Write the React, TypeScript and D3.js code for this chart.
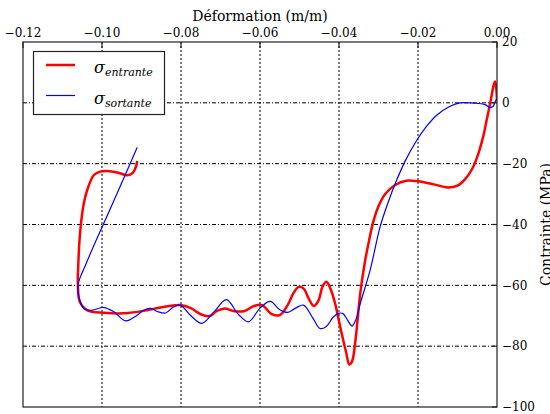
import React from "react";
import * as d3 from "d3";

const xTicks = [-0.12, -0.1, -0.08, -0.06, -0.04, -0.02, 0.0];
const yTicks = [20, 0, -20, -40, -60, -80, -100];

const entranteX = [0.0, -0.0002, -0.0005, -0.0009, -0.0017, -0.0026, -0.0035, -0.0048, -0.0062, -0.008, -0.01, -0.0125, -0.016, -0.02, -0.023, -0.0258, -0.0283, -0.03, -0.0313, -0.0325, -0.0334, -0.0346, -0.0359, -0.0367, -0.0374, -0.0382, -0.0397, -0.041, -0.0422, -0.0432, -0.0442, -0.0452, -0.0464, -0.0476, -0.049, -0.0502, -0.0515, -0.053, -0.055, -0.057, -0.0595, -0.0615, -0.0641, -0.0665, -0.069, -0.071, -0.0728, -0.075, -0.0775, -0.0802, -0.0852, -0.0886, -0.0945, -0.0995, -0.1037, -0.1056, -0.1061, -0.106, -0.1055, -0.1046, -0.1037, -0.1021, -0.1005, -0.0985, -0.0961, -0.0936, -0.0922, -0.0914, -0.0911];
const entranteY = [0.5, 5.0, 7.0, 5.5, 0, -5.6, -11.1, -17, -21.5, -25, -27.2, -27.8, -26.8, -25.8, -25.6, -27, -30, -34, -39, -46, -52, -62.4, -78.8, -85, -86, -82, -73.6, -65.9, -61.0, -58.8, -60.5, -65, -66.8, -64.5, -61, -60.5, -62.5, -66.5, -69.8, -69.5, -66.5, -66.8, -68.5, -68.5, -67.6, -68.5, -70.1, -69.5, -67.5, -66.5, -67.3, -68.2, -69.2, -69.0, -68.2, -65.5, -60, -53, -42, -33, -28.5, -23.8, -22.6, -22.4, -22.9, -23.8, -23.0, -21, -19.1];

const sortanteX = [0.0, -0.0005, -0.001, -0.0018, -0.003, -0.006, -0.0094, -0.012, -0.0152, -0.018, -0.0203, -0.023, -0.0254, -0.0275, -0.0296, -0.0321, -0.0346, -0.0358, -0.0367, -0.0378, -0.039, -0.0401, -0.0415, -0.0432, -0.0448, -0.0465, -0.049, -0.051, -0.053, -0.055, -0.0574, -0.06, -0.0629, -0.0655, -0.0685, -0.0715, -0.0747, -0.0775, -0.0802, -0.082, -0.0839, -0.086, -0.0877, -0.0895, -0.0911, -0.094, -0.097, -0.0995, -0.1029, -0.1046, -0.1056, -0.1061, -0.104, -0.099, -0.095, -0.0911];
const sortanteY = [1.4, 0.3, -1.2, -1.5, -0.6, -0.1, 0, -1.2, -4.0, -8, -12.3, -18.5, -25.4, -32.5, -40.8, -54.9, -65.9, -71.5, -73.4, -71.5, -69.3, -69.2, -70.5, -73.5, -74.2, -71, -66.5, -67.5, -68.9, -68.0, -65.3, -67.5, -72.0, -69.5, -64.7, -68.5, -72.5, -70, -66.5, -67.2, -69.1, -68.6, -67.6, -68.2, -69.8, -71.7, -68.7, -67.3, -68.2, -67.6, -65, -60, -52.8, -38, -26.3, -14.7];

const W = 550;
const H = 414;
const L = 23, R = 497, T = 42, B = 407;
const font = "'DejaVu Serif', serif";

export default function App() {
  const x = d3.scaleLinear().domain([-0.12, 0]).range([L, R]);
  const y = d3.scaleLinear().domain([-100, 20]).range([B, T]);
  const line = d3
    .line<[number, number]>()
    .x((d) => x(d[0]))
    .y((d) => y(d[1]))
    .curve(d3.curveCatmullRom.alpha(0.5));
  const red: [number, number][] = entranteX.map((v, i) => [v, entranteY[i]]);
  const blue: [number, number][] = sortanteX.map((v, i) => [v, sortanteY[i]]);
  const fmtX = (v: number) => (v < 0 ? "\u2212" : "") + Math.abs(v).toFixed(2);
  const fmtY = (v: number) => (v < 0 ? "\u2212" : "") + Math.abs(v).toString();

  return (
    <svg
      width={W}
      height={H}
      style={{ position: "absolute", left: 0, top: 0, background: "#fff" }}
    >
      <rect x={0} y={0} width={W} height={H} fill="#fff" />
      <defs>
        <clipPath id="plot">
          <rect x={L} y={T} width={R - L} height={B - T} />
        </clipPath>
      </defs>
      {/* grid */}
      {xTicks.slice(1, -1).map((t) => (
        <line key={"gx" + t} x1={x(t)} x2={x(t)} y1={T} y2={B} stroke="#000" strokeWidth={1} strokeDasharray="2,2" />
      ))}
      {yTicks.slice(1, -1).map((t) => (
        <line key={"gy" + t} x1={L} x2={R} y1={y(t)} y2={y(t)} stroke="#000" strokeWidth={1} strokeDasharray="4,2,1,2" />
      ))}
      {/* curves */}
      <g clipPath="url(#plot)">
        <path d={line(red) || ""} fill="none" stroke="#ff0000" strokeWidth={2.5} strokeLinejoin="round" />
        <path d={line(blue) || ""} fill="none" stroke="#0000ff" strokeWidth={1.2} strokeLinejoin="round" />
      </g>
      {/* frame */}
      <rect x={L} y={T} width={R - L} height={B - T} fill="none" stroke="#222" strokeWidth={1.2} />
      {/* top ticks */}
      {xTicks.map((t) => (
        <g key={"tx" + t}>
          <line x1={x(t)} x2={x(t)} y1={T} y2={T + 6} stroke="#222" strokeWidth={1.2} />
          <text x={x(t)} y={T - 5} textAnchor="middle" fontFamily={font} fontSize={12} fill="#000">
            {fmtX(t)}
          </text>
        </g>
      ))}
      {/* right ticks */}
      {yTicks.map((t) => (
        <g key={"ty" + t}>
          <line x1={R - 5} x2={R} y1={y(t)} y2={y(t)} stroke="#222" strokeWidth={1.2} />
          <text x={R + 5} y={y(t)} dy="0.35em" textAnchor="start" fontFamily={font} fontSize={12} fill="#000">
            {fmtY(t)}
          </text>
        </g>
      ))}
      <text x={(L + R) / 2} y={21} textAnchor="middle" fontFamily={font} fontSize={14} fill="#000">
        Déformation (m/m)
      </text>
      <text
        transform={`translate(551, ${(T + B) / 2}) rotate(-90)`}
        textAnchor="middle"
        fontFamily={font}
        fontSize={14}
        fill="#000"
      >
        Contrainte (MPa)
      </text>
      {/* legend */}
      <rect x={33.5} y={51.5} width={131} height={63} fill="#fff" stroke="#222" strokeWidth={1.2} />
      <line x1={46} x2={75} y1={65} y2={65} stroke="#ff0000" strokeWidth={2.5} />
      <line x1={46} x2={75} y1={95.5} y2={95.5} stroke="#0000ff" strokeWidth={1.2} />
      <text x={94} y={73} fontFamily={font} fontStyle="italic" fontSize={16} fill="#000">
        σ<tspan fontSize={11} dy={3}>entrante</tspan>
      </text>
      <text x={94} y={104} fontFamily={font} fontStyle="italic" fontSize={16} fill="#000">
        σ<tspan fontSize={11} dy={3}>sortante</tspan>
      </text>
    </svg>
  );
}
